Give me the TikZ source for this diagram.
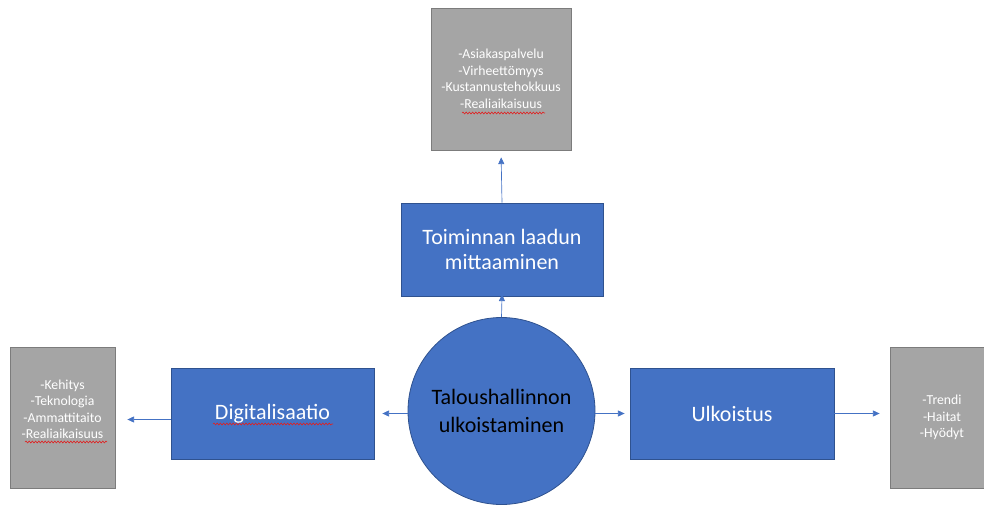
\documentclass[tikz,border=0pt]{standalone}
\usepackage{fontspec}
\setmainfont{Carlito}
\usepackage{tikz}
\usetikzlibrary{arrows.meta,decorations.pathmorphing}
\definecolor{offblue}{HTML}{4472C4}
\definecolor{offblueline}{HTML}{2F528F}
\definecolor{offgrey}{HTML}{A5A5A5}
\definecolor{offgreyline}{HTML}{7C7C7C}
\definecolor{spellred}{HTML}{E02020}

\tikzset{
  bluebox/.style={draw=offblueline,fill=offblue,line width=0.6pt,inner sep=0pt,
    text=white,align=center,font=\fontsize{16.5}{18.75}\selectfont},
  greybox/.style={draw=offgreyline,fill=offgrey,line width=0.6pt,inner sep=0pt,
    text=white,align=center,font=\fontsize{10.3}{12.4}\selectfont},
  link/.style={draw=offblue,line width=0.5pt,-{Triangle[length=5pt,width=4.5pt]}},
  squiggle/.style={draw=spellred,line width=0.45pt,
    decorate,decoration={snake,amplitude=0.7pt,segment length=2.4pt}}
}

\begin{document}
\begin{tikzpicture}[x=0.75pt,y=0.75pt,yscale=-1,xscale=1]
\useasboundingbox (0,0) rectangle (984,506);
\clip (0,0) rectangle (984,506);

%Shape: Circle [centre]
\node [circle,bluebox,text=black,minimum size=140.25pt,font=\fontsize{16.5}{21}\selectfont]
  (talous) at (501.5,411) {Taloushallinnon\\ulkoistaminen};

%Shape: Rectangle [top]
\node [bluebox,minimum width=151.5pt,minimum height=69.75pt]
  (laatu) at (502,249.5) {Toiminnan laadun\\mittaaminen};
\node [greybox,minimum width=105pt,minimum height=106.5pt]
  (laatulista) at (501,79) {-Asiakaspalvelu\\-Virheettömyys\\-Kustannustehokkuus\\-Realiaikaisuus};

%Shape: Rectangle [left]
\node [bluebox,minimum width=152.25pt,minimum height=68.25pt]
  (digi) at (272.5,413.5) {Digitalisaatio};
\node [greybox,minimum width=78.75pt,minimum height=105.75pt]
  (digilista) at (62.5,417.5) {-Kehitys\\-Teknologia\\-Ammattitaito\\-Realiaikaisuus\\ \mbox{}};

%Shape: Rectangle [right]
\node [bluebox,minimum width=153pt,minimum height=68.25pt]
  (ulko) at (732,413.5) {Ulkoistus};
\node [greybox,minimum width=78pt,minimum height=105.75pt]
  (ulkolista) at (942,417.5) {-Trendi\\-Haitat\\-Hyödyt};

%Straight Lines
\draw [link,shorten >=-1.5pt] (talous.north) -- (laatu.south);
\draw [link,shorten >=5.25pt] (laatu.north) -- (laatulista.south);
\draw [link,shorten >=6pt] (talous.west |- digi.east) -- (digi.east);
\draw [link,shorten >=9pt] (digi.west) ++(0,6) coordinate (digiout) -- (digiout -| digilista.east);
\draw [link,shorten >=3.75pt] (talous.east |- ulko.west) -- (ulko.west);
\draw [link,shorten >=7.5pt] (ulko.east) -- (ulkolista.west |- ulko.east);

%Spelling marks
\draw [squiggle] (462,113) -- (545,113);
\draw [squiggle] (213,424) -- (333,424);
\draw [squiggle] (25,442) -- (107,442);

\end{tikzpicture}
\end{document}
